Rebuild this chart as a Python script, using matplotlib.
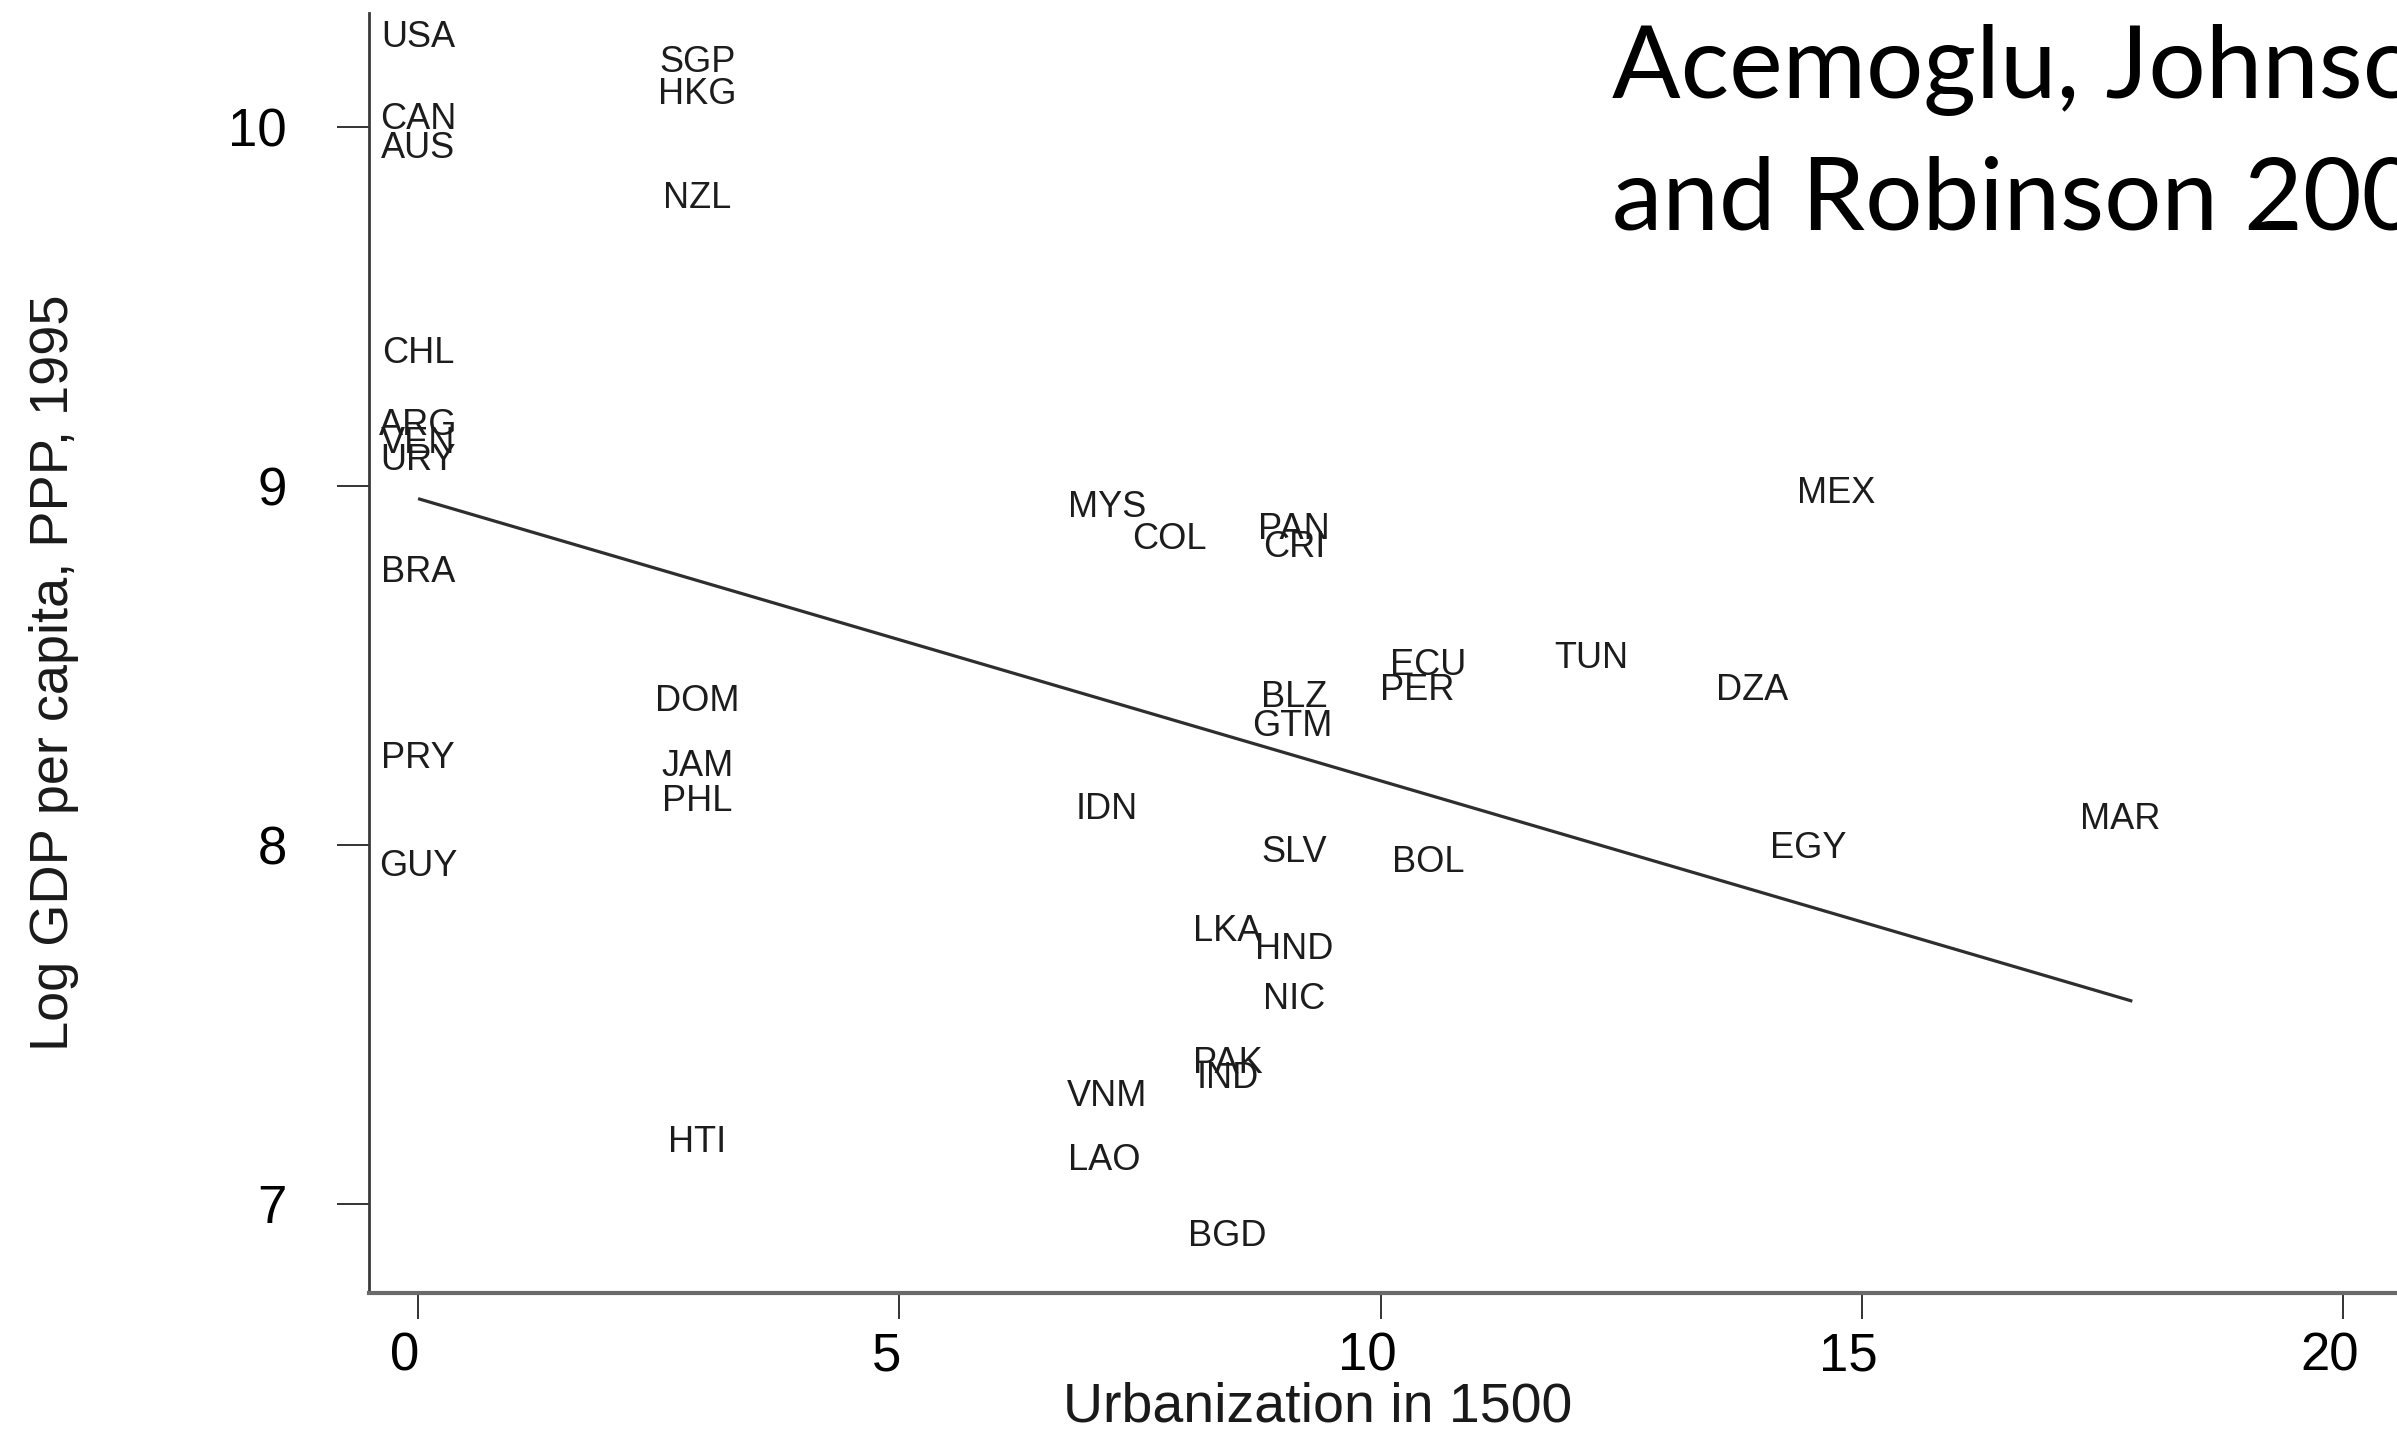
"""
Urbanization in 1500 vs log GDP per capita (Acemoglu, Johnson and Robinson 2002).
"""

import matplotlib

matplotlib.use("Agg")
import matplotlib.pyplot as plt
from matplotlib.transforms import ScaledTranslation

# Country codes and their positions
countries = [
    "USA", "CAN", "AUS", "CHL", "ARG", "VEN", "URY", "BRA", "PRY", "GUY",
    "SGP", "HKG", "NZL", "DOM", "JAM", "PHL", "HTI",
    "MYS", "COL", "PAN", "CRI", "MEX", "ECU", "PER", "TUN", "DZA",
    "BLZ", "GTM", "IDN", "SLV", "BOL", "EGY", "MAR",
    "LKA", "HND", "NIC", "PAK", "IND", "VNM", "LAO", "BGD",
]
urbanization = [
    0.0, 0.0, 0.0, 0.0, 0.0, 0.0, 0.0, 0.0, 0.0, 0.0,
    2.9, 2.9, 2.9, 2.9, 2.9, 2.9, 2.9,
    7.16, 7.81, 9.10, 9.10, 14.73, 10.49, 10.38, 12.19, 13.86,
    9.10, 9.08, 7.16, 9.10, 10.49, 14.44, 17.68,
    8.41, 9.10, 9.10, 8.41, 8.41, 7.16, 7.13, 8.41,
]
log_gdp = [
    10.25, 10.02, 9.94, 9.37, 9.17, 9.12, 9.07, 8.76, 8.24, 7.94,
    10.18, 10.09, 9.80, 8.40, 8.22, 8.12, 7.17,
    8.94, 8.85, 8.88, 8.83, 8.98, 8.50, 8.43, 8.52, 8.43,
    8.41, 8.33, 8.10, 7.98, 7.95, 7.99, 8.07,
    7.76, 7.71, 7.57, 7.39, 7.35, 7.30, 7.12, 6.91,
]

# Fitted regression line endpoints
fit_x = [0.0, 17.81]
fit_y = [8.965, 7.565]

x_ticks = [0, 5, 10, 15, 20]
y_ticks = [7, 8, 9, 10]

plt.rcParams["font.family"] = ["Liberation Sans", "DejaVu Sans"]

W, H = 2397, 1434
fig = plt.figure(figsize=(W / 100, H / 100), dpi=100)
ax = fig.add_axes([369 / W, 1 - 1293 / H, 1 - 369 / W, (1293 - 13) / H])

# Country labels
for name, x, y in zip(countries, urbanization, log_gdp):
    ax.text(x, y, name, ha="center", va="center", fontsize=26, color="#1c1c1c")

# Regression line
ax.plot(fit_x, fit_y, color="#2e2e2e", linewidth=2.3, solid_capstyle="butt")

ax.set_xlim(-0.51, 20.56)
ax.set_ylim(6.752, 10.318)
ax.set_xticks(x_ticks)
ax.set_yticks(y_ticks)

for side in ("top", "right"):
    ax.spines[side].set_visible(False)
ax.spines["left"].set_color("#3a3a3a")
ax.spines["left"].set_linewidth(2.0)
ax.spines["bottom"].set_color("#6a6a6a")
ax.spines["bottom"].set_linewidth(3.0)

ax.tick_params(axis="x", length=19, width=1.4, color="#333333",
               labelsize=38, pad=9)
ax.tick_params(axis="y", length=23, width=1.4, color="#333333",
               labelsize=38, pad=36)

# the scanned tick numbers sit a little left of their ticks
shift = ScaledTranslation(-0.13, 0, fig.dpi_scale_trans)
for lbl in ax.get_xticklabels():
    lbl.set_transform(lbl.get_transform() + shift)

fig.text(1318 / W, 1 - 1408 / H, "Urbanization in 1500", ha="center",
         va="center", fontsize=40, color="#1a1a1a")
fig.text(54 / W, 1 - 673 / H, "Log GDP per capita, PPP, 1995", ha="center",
         va="center", rotation=90, fontsize=39, color="#1a1a1a")

# Slide title, clipped by the right edge as in the original
title_lines = ["Acemoglu, Johnson", "and Robinson 2002"]
for line, base in zip(title_lines, [98, 229]):
    fig.text(1612 / W, 1 - base / H, line, ha="left", va="baseline",
             fontsize=73, family="Lato", color="black")

fig.savefig("out.png", dpi=100)
plt.close(fig)
